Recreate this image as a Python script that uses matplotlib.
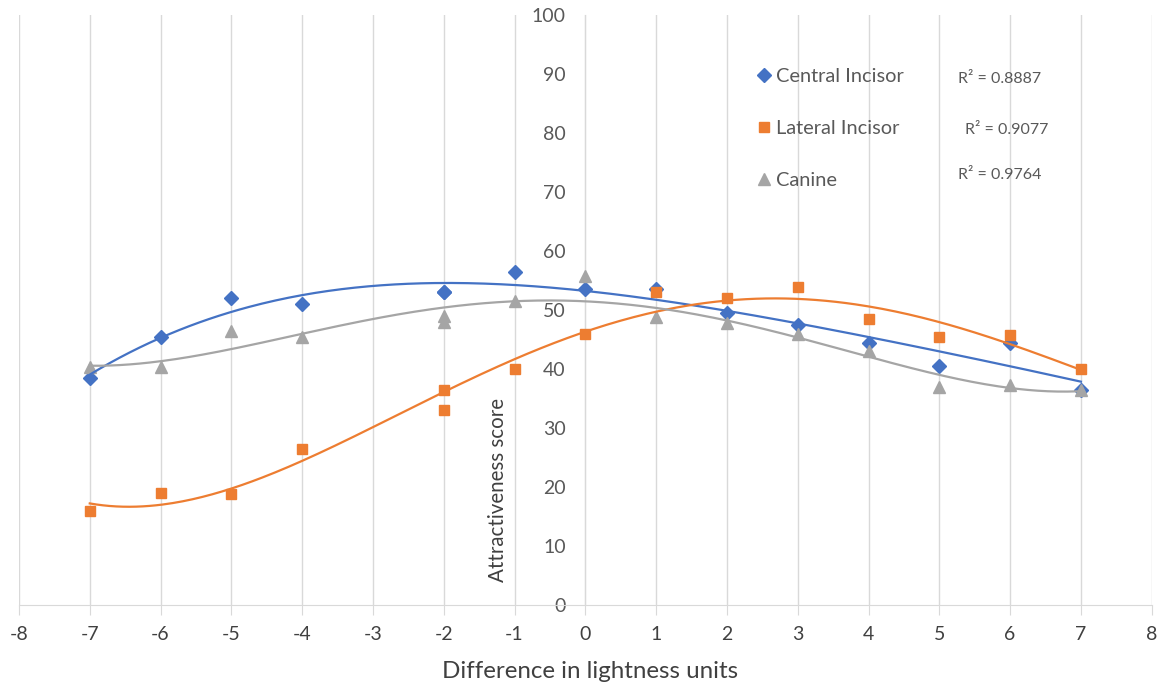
import matplotlib.pyplot as plt
import numpy as np

plt.rcParams['font.family'] = ['Lato', 'DejaVu Sans']
plt.rcParams['axes.unicode_minus'] = False

# lightness difference (the -3 group was plotted at -2 in the original)
x = [-7, -6, -5, -4, -2, -2, -1, 0, 1, 2, 3, 4, 5, 6, 7]
central = [38.5, 45.5, 52, 51, 53, 53, 56.5, 53.5, 53.5, 49.5, 47.5, 44.5, 40.5, 44.5, 36.5]
lateral = [16, 19, 18.8, 26.5, 36.5, 33, 40, 46, 53, 52, 54, 48.5, 45.5, 45.8, 40]
canine = [40.3, 40.3, 46.5, 45.5, 49, 48, 51.5, 55.8, 48.8, 47.8, 46, 43, 37, 37.3, 36.5]
names = ["Central Incisor", "Lateral Incisor", "Canine"]
r2_labels = ["R\u00b2 = 0.8887", "R\u00b2 = 0.9077", "R\u00b2 = 0.9764"]

colors = ["#4472C4", "#ED7D31", "#A5A5A5"]
markers = ["D", "s", "^"]
sizes = [7, 7.5, 8.5]
grid_c = "#D9D9D9"

fig = plt.figure(figsize=(11.63, 6.89), dpi=100)
ax = fig.add_axes([0.0163, 0.1219, 0.974, 0.856])

xs = np.linspace(-7, 7, 300)
for ys, name, c, m, s in zip([central, lateral, canine], names, colors, markers, sizes):
    ax.plot(x, ys, linestyle="none", marker=m, markersize=s, color=c, label=name, zorder=3)
    coef = np.polyfit(x, ys, 4)  # polynomial trendline
    ax.plot(xs, np.polyval(coef, xs), color=c, lw=1.6, zorder=4)

ax.set_xlim(-8, 8)
ax.set_ylim(0, 100)
ax.set_xticks(range(-8, 9))
ax.set_yticks(range(0, 101, 10))
ax.grid(axis="x", color=grid_c, lw=1)
ax.set_axisbelow(True)

for sp in ["top", "right"]:
    ax.spines[sp].set_visible(False)
ax.spines["left"].set_position(("data", 0))
ax.spines["left"].set_color(grid_c)
ax.spines["bottom"].set_color(grid_c)

ax.tick_params(axis="x", direction="out", length=7, color=grid_c, labelsize=14,
               labelcolor="#404040", pad=8)
ax.tick_params(axis="y", length=0, labelsize=14, labelcolor="#595959", pad=14)
for lab in ax.get_yticklabels():
    lab.set_zorder(5)

ax.text(-1.23, 19.5, "Attractiveness score", rotation=90, ha="center", va="center",
        fontsize=14.8, color="#404040")
fig.text(0.507, 0.025, "Difference in lightness units", ha="center", va="center",
         fontsize=17.4, color="#404040")

leg = ax.legend(loc="upper left", bbox_to_anchor=(0.633, 0.941), frameon=False,
                fontsize=14.4, labelspacing=1.75, handletextpad=0.1, handlelength=1.0,
                labelcolor="#595959")

r2_pos = [(0.824, 0.886), (0.830, 0.812), (0.824, 0.746)]
for (fx, fy), t in zip(r2_pos, r2_labels):
    fig.text(fx, fy, t, fontsize=11.5, color="#595959", ha="left", va="center")

fig.savefig("out.png", dpi=100)
